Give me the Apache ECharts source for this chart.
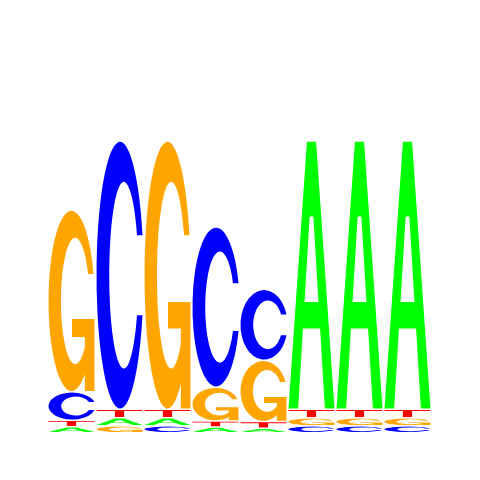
<!DOCTYPE html>
<html><head><meta charset="utf-8">
<script src="https://cdn.jsdelivr.net/npm/echarts@6/dist/echarts.min.js"></script>
<style>html,body{margin:0;padding:0;background:#fff}#c{width:480px;height:480px}</style>
</head><body><div id="c"></div>
<script>
// Sequence logo data (information content in bits per letter, per position)
const positions = ['1','2','3','4','5','6','7','8'];
const bitsA = [0.031, 0.042, 0.042, 0.030, 0.023, 1.397, 1.397, 1.397];
const bitsC = [0.148, 1.397, 0.036, 0.835, 0.370, 0.036, 0.036, 0.036];
const bitsG = [0.947, 0.036, 1.397, 0.176, 0.319, 0.042, 0.042, 0.042];
const bitsT = [0.034, 0.044, 0.044, 0.031, 0.035, 0.044, 0.044, 0.044];

const HEIGHTS = {A: bitsA, C: bitsC, G: bitsG, T: bitsT};
const COLORS = {A: '#00ff00', C: '#0000ff', G: '#ffa500', T: '#ff0000'};
const PATHS = {
  A: 'M0,100 L40,0 L60,0 L100,100 L79,100 L68.6,70 L31.4,70 L21,100 Z M46,28 L34.9,60 L65.1,60 L54,28 Z',
  C: 'M97.7,35 A50,50 0 1 0 97.7,65 L86,65 A31,35 0 1 1 86,35 Z',
  G: 'M97.7,35 A50,50 0 1 0 79,90.7 L79,100 L100,100 L100,60 L51,60 L51,70 L79,70 L79,75.7 A31,35 0 1 1 86,35 Z',
  T: 'M0,0 L100,0 L100,15 L60,15 L60,100 L40,100 L40,15 L0,15 Z'
};

function renderItem(params, api) {
  const i = api.value(0);
  const letters = ['A','C','G','T'].map(L => ({L: L, h: HEIGHTS[L][i]})).sort((a, b) => a.h - b.h);
  const bw = api.size([1, 0])[0];
  let cum = 0;
  const children = [];
  for (const it of letters) {
    const p0 = api.coord([i, cum]);
    const p1 = api.coord([i, cum + it.h]);
    cum += it.h;
    const left = p0[0] - bw / 2 + 0.5;
    const top = p1[1] + 1.5;
    const bottom = p0[1];
    if (bottom - top <= 0.3) continue;
    children.push({
      type: 'path',
      shape: {pathData: PATHS[it.L], x: left, y: top, width: bw - 2, height: bottom - top, layout: 'cover'},
      style: {fill: COLORS[it.L], stroke: null}
    });
  }
  return {type: 'group', children: children};
}

const chart = echarts.init(document.getElementById('c'), null, {renderer: 'canvas'});
chart.setOption({
  backgroundColor: '#ffffff',
  animation: false,
  grid: {left: 48, right: 48, top: 48, bottom: 48},
  xAxis: {type: 'category', data: positions, show: false},
  yAxis: {type: 'value', min: 0, max: 2, show: false},
  series: [{
    type: 'custom',
    clip: false,
    renderItem: renderItem,
    encode: {x: 0},
    data: positions.map((p, i) => [i])
  }]
});
</script>
</body></html>
